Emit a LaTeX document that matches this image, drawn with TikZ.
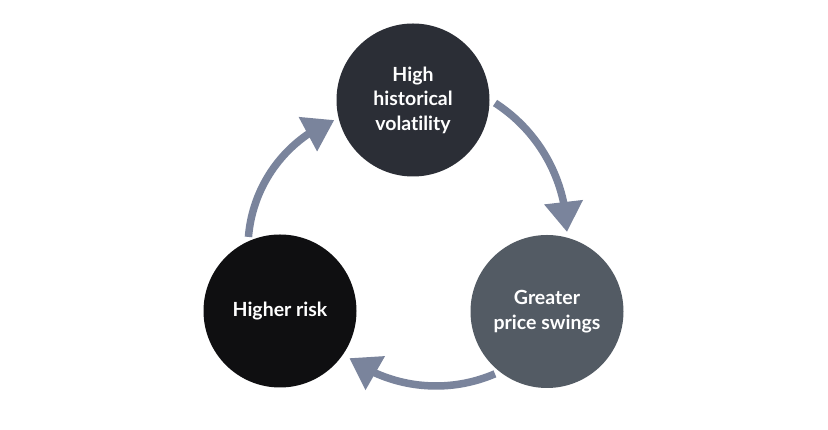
\documentclass[tikz,border=0pt]{standalone}
\usepackage{fontspec}
\setmainfont[Ligatures={NoCommon}]{Lato}
\usetikzlibrary{arrows.meta,bending}
\definecolor{arrowc}{HTML}{7A849C}
\definecolor{topc}{HTML}{2B2E36}
\definecolor{leftc}{HTML}{0F0F11}
\definecolor{rightc}{HTML}{535B64}
\begin{document}
\begin{tikzpicture}[x=1pt,y=1pt,
  bubble/.style={circle,inner sep=0pt,minimum size=153pt,text=white,align=center,
    font=\fontsize{19.5}{24.5}\selectfont\bfseries},
  cyc/.style={draw=arrowc,line width=7.5pt,-{Triangle[length=30pt,width=37pt,flex]}}]
\useasboundingbox (0,0) rectangle (828,430);
\fill[white] (0,0) rectangle (828,430);
\node[bubble,fill=topc] (top) at (413,330) {High\\historical\\volatility};
\node[bubble,fill=leftc] (left) at (280,119) {Higher risk};
\node[bubble,fill=rightc] (right) at (547,118.5) {Greater\\price swings};
\coordinate (c1) at (410,195);
\coordinate (c2) at (436,193);
\coordinate (c3) at (386,182);
\draw[cyc] (c1) ++(57.2:157pt) arc[start angle=57.2,end angle=1.1,radius=157pt];
\draw[cyc] (c2) ++(-66.7:149pt) arc[start angle=-66.7,end angle=-125.6,radius=149pt];
\draw[cyc] (c3) ++(175.4:138pt) arc[start angle=175.4,end angle=112,radius=138pt];
\end{tikzpicture}
\end{document}
